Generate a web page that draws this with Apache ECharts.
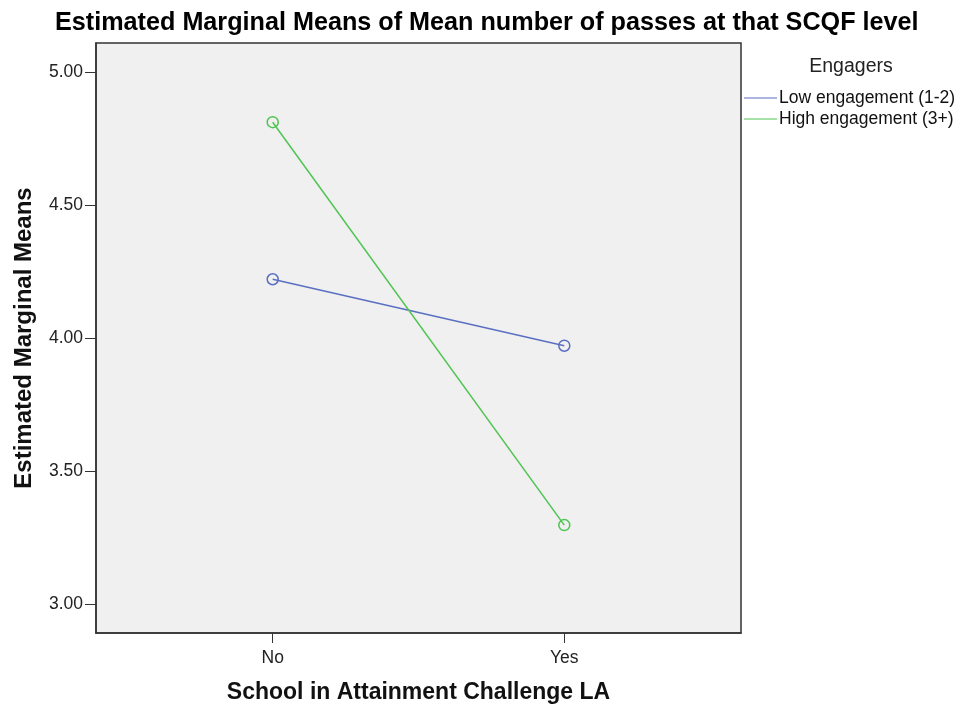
<!DOCTYPE html>
<html>
<head>
<meta charset="utf-8">
<script src="https://cdn.jsdelivr.net/npm/echarts@6/dist/echarts.min.js"></script>
<style>
  html, body { margin: 0; padding: 0; background: #fff; }
  #chart { width: 960px; height: 708px; }
</style>
</head>
<body>
<div id="chart"></div>
<script>
// data
const categories = ['No', 'Yes']
const lowValues = [4.221, 3.971]
const highValues = [4.812, 3.296]
const yTicks = [3.0, 3.5, 4.0, 4.5, 5.0]
const seriesNames = ['Low engagement (1-2)', 'High engagement (3+)']

const blue = '#5a6fc2'
const green = '#4fc452'
const font = 'Liberation Sans, Arial, sans-serif'

let myChart = echarts.init(document.getElementById('chart'))
let option = {
  backgroundColor: '#fff',
  title: [{
    text: 'Estimated Marginal Means of Mean number of passes at that SCQF level',
    left: 55,
    top: 11,
    padding: 0,
    textStyle: {
      fontFamily: font,
      fontWeight: 'bold',
      fontSize: 25.2,
      color: '#000'
    }
  }, {
    text: 'Engagers',
    left: 851,
    textAlign: 'center',
    top: 57,
    padding: 0,
    textStyle: { fontFamily: font, fontWeight: 'normal', fontSize: 19.5, color: '#222' }
  }],
  legend: {
    orient: 'vertical',
    left: 744,
    top: 89,
    padding: 0,
    itemWidth: 33,
    itemHeight: 1,
    itemGap: 3,
    icon: 'rect',
    textStyle: { fontFamily: font, fontSize: 17.5, color: '#111', padding: [0, 0, 0, -3] },
    data: [
      { name: seriesNames[0], itemStyle: { color: blue, borderWidth: 0 } },
      { name: seriesNames[1], itemStyle: { color: green, borderWidth: 0 } }
    ]
  },
  grid: {
    left: 96,
    top: 43,
    right: 219,
    bottom: 75,
    outerBoundsMode: 'none',
    show: true,
    backgroundColor: '#f0f0f0',
    borderColor: '#333',
    borderWidth: 1.5
  },
  xAxis: {
    type: 'value',
    min: 0.394,
    max: 2.606,
    name: 'School in Attainment Challenge LA',
    nameLocation: 'middle',
    nameGap: 48,
    nameTextStyle: { fontFamily: font, fontWeight: 'bold', fontSize: 23, color: '#111' },
    axisLine: { show: true, lineStyle: { color: '#333', width: 1.5 } },
    axisTick: { show: true, length: 10, customValues: [1, 2], lineStyle: { color: '#333' } },
    axisLabel: {
      customValues: [1, 2],
      formatter: v => categories[Math.round(v) - 1],
      fontFamily: font, fontSize: 17.5, color: '#222', margin: 16
    },
    splitLine: { show: false }
  },
  yAxis: {
    type: 'value',
    min: 2.89,
    max: 5.11,
    name: 'Estimated Marginal Means',
    nameLocation: 'middle',
    nameGap: 60,
    nameTextStyle: { fontFamily: font, fontWeight: 'bold', fontSize: 24, color: '#111' },
    axisLine: { show: true, lineStyle: { color: '#333', width: 1.5 } },
    axisTick: { show: true, length: 11, customValues: yTicks, lineStyle: { color: '#333' } },
    axisLabel: {
      customValues: yTicks,
      formatter: v => v.toFixed(2),
      fontFamily: font, fontSize: 17.5, color: '#222', margin: 13
    },
    splitLine: { show: false }
  },
  series: [{
    name: seriesNames[0],
    type: 'line',
    data: lowValues.map((v, i) => [i + 1, v]),
    symbol: 'circle',
    symbolSize: 11,
    showSymbol: true,
    color: blue,
    lineStyle: { color: blue, width: 1.5 },
    itemStyle: { color: 'rgba(0,0,0,0)', borderColor: blue, borderWidth: 1.5 }
  }, {
    name: seriesNames[1],
    type: 'line',
    data: highValues.map((v, i) => [i + 1, v]),
    symbol: 'circle',
    symbolSize: 11,
    showSymbol: true,
    color: green,
    lineStyle: { color: green, width: 1.5 },
    itemStyle: { color: 'rgba(0,0,0,0)', borderColor: green, borderWidth: 1.5 }
  }]
}
myChart.setOption(option)
</script>
</body>
</html>
